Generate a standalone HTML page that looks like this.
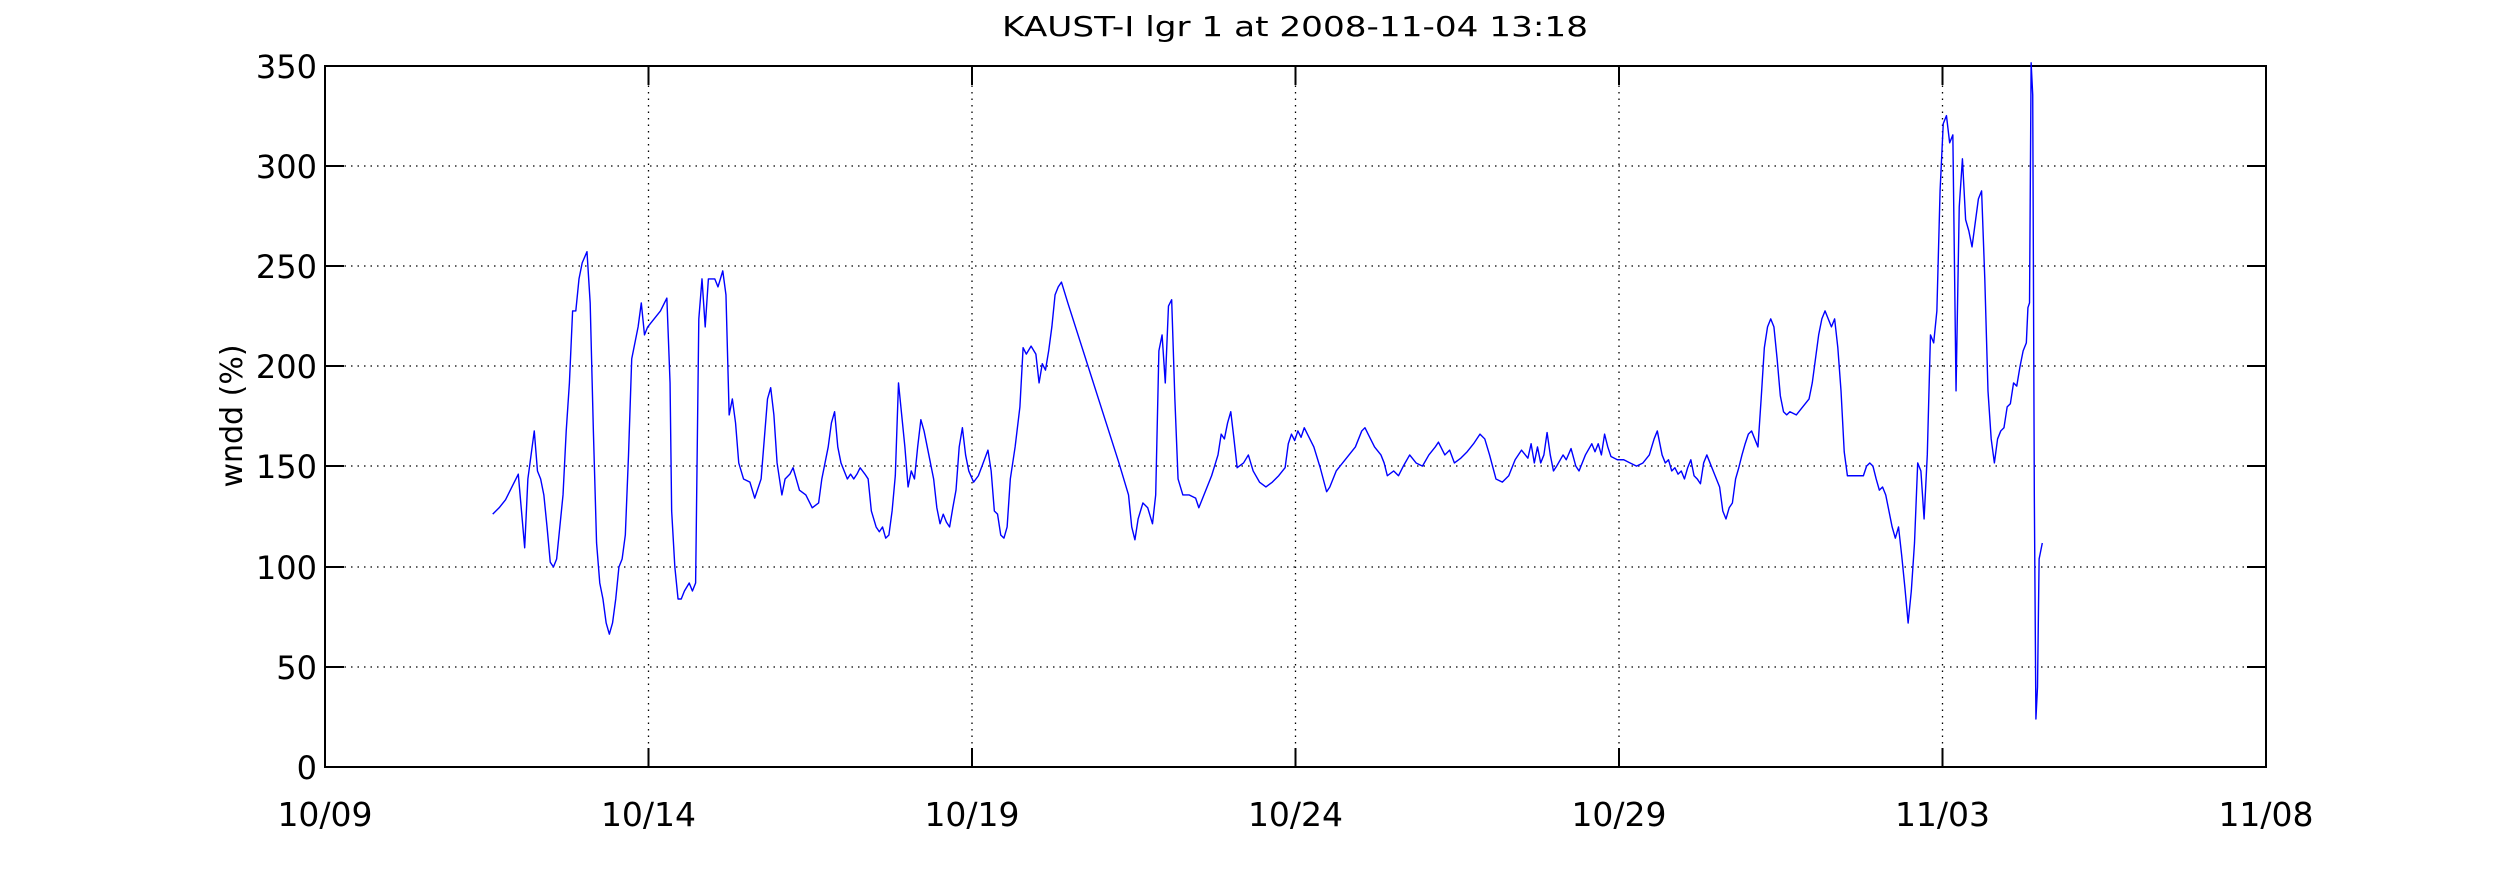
<!DOCTYPE html>
<html><head><meta charset="utf-8"><style>
html,body{margin:0;padding:0;background:#fff;}
svg{display:block;}
text{font-family:"DejaVu Sans","Liberation Sans",sans-serif;fill:#000;}
</style></head><body>
<svg width="2503" height="875" viewBox="0 0 2503 875" xmlns="http://www.w3.org/2000/svg">
<rect width="2503" height="875" fill="#fff"/>
<g stroke="#000" stroke-width="1.3" stroke-dasharray="1.5,5" fill="none">
<line x1="325" y1="166" x2="2266" y2="166"/>
<line x1="325" y1="266" x2="2266" y2="266"/>
<line x1="325" y1="366" x2="2266" y2="366"/>
<line x1="325" y1="466" x2="2266" y2="466"/>
<line x1="325" y1="567" x2="2266" y2="567"/>
<line x1="325" y1="667" x2="2266" y2="667"/>
<line x1="648.5" y1="66" x2="648.5" y2="767"/>
<line x1="972" y1="66" x2="972" y2="767"/>
<line x1="1295.5" y1="66" x2="1295.5" y2="767"/>
<line x1="1619" y1="66" x2="1619" y2="767"/>
<line x1="1942.5" y1="66" x2="1942.5" y2="767"/>
</g>
<g stroke="#000" stroke-width="2" fill="none">
<rect x="325" y="66" width="1941" height="701"/>
<path d="M325 166h19M325 266h19M325 366h19M325 466h19M325 567h19M325 667h19
M2266 166h-19M2266 266h-19M2266 366h-19M2266 466h-19M2266 567h-19M2266 667h-19
M648.5 767v-19M972 767v-19M1295.5 767v-19M1619 767v-19M1942.5 767v-19
M648.5 66v19M972 66v19M1295.5 66v19M1619 66v19M1942.5 66v19"/>
</g>
<g font-size="32" text-anchor="end">
<text x="317" y="78">350</text>
<text x="317" y="178">300</text>
<text x="317" y="278">250</text>
<text x="317" y="378">200</text>
<text x="317" y="478">150</text>
<text x="317" y="579">100</text>
<text x="317" y="679">50</text>
<text x="317" y="779">0</text>
</g>
<g font-size="33" text-anchor="middle">
<text x="325" y="826">10/09</text>
<text x="648.5" y="826">10/14</text>
<text x="972" y="826">10/19</text>
<text x="1295.5" y="826">10/24</text>
<text x="1619" y="826">10/29</text>
<text x="1942.5" y="826">11/03</text>
<text x="2266" y="826">11/08</text>
</g>
<text x="1295" y="36" font-size="28" text-anchor="middle" textLength="586" lengthAdjust="spacingAndGlyphs">KAUST-I lgr 1 at 2008-11-04 13:18</text>
<text x="0" y="0" font-size="30" text-anchor="middle" transform="translate(242,416) rotate(-90)">wndd (%)</text>
<g transform="matrix(1.5975 0 0 1.6005 0.7 -1.2)">
<polyline fill="none" stroke="#0000ff" stroke-width="1.4" vector-effect="non-scaling-stroke" stroke-linejoin="round" points="308,322 312,318 316,313 320,305 324,297 326,320 328,343 330,300 332,285 334,270 336,295 338,300 340,310 342,330 344,352 346,355 348,350 350,330 352,310 354,270 356,240 358,195 360,195 362,175 364,165 367,158 369,190 371,270 373,340 375,365 377,375 379,390 381,397 383,390 385,375 387,355 389,350 391,335 393,285 395,225 397,215 399,205 401,190 403,210 405,205 409,200 413,195 417,187 419,240 420,320 422,355 424,375 426,375 428,370 431,365 433,370 435,365 437,200 439,175 441,205 443,175 447,175 449,180 452,170 454,185 456,260 458,250 460,265 462,290 465,300 469,302 472,312 476,300 478,275 480,250 482,243 484,260 486,290 489,310 491,300 494,297 496,293 498,300 500,307 504,310 508,318 512,315 514,300 518,280 520,265 522,258 524,280 526,290 528,295 530,300 532,297 534,300 536,297 538,293 541,297 543,300 545,320 548,330 550,333 552,330 554,337 556,335 558,320 560,298 562,240 564,260 566,280 568,305 570,295 572,300 574,280 576,263 578,270 581,285 584,300 586,318 588,328 590,322 592,327 594,330 596,318 598,307 600,280 602,268 604,285 606,295 609,302 612,298 615,290 618,282 620,295 622,320 624,322 626,335 628,337 630,330 632,300 635,280 638,255 640,218 642,222 645,217 648,222 650,240 652,228 654,232 656,220 658,205 660,185 662,180 664,177 668,190 676,215 684,240 692,265 700,290 706,310 708,330 710,338 712,325 715,315 718,318 721,328 723,310 725,220 727,210 729,240 731,192 733,188 735,250 737,300 740,310 744,310 748,312 750,318 754,308 758,298 762,285 764,272 766,275 768,265 770,258 772,275 774,293 778,290 781,285 784,295 788,302 792,305 796,302 800,298 804,293 806,278 808,272 810,276 812,270 814,274 816,268 818,272 822,280 826,293 830,308 832,305 836,295 840,290 844,285 848,280 852,270 854,268 856,272 860,280 864,285 866,290 868,298 872,295 875,298 878,292 882,285 886,290 890,292 894,285 898,280 900,277 904,285 907,282 910,290 914,287 918,283 922,278 926,272 929,275 932,285 936,300 940,302 944,298 948,288 952,282 956,287 958,278 960,290 962,280 964,290 966,285 968,271 970,285 972,295 974,292 978,285 980,288 983,281 986,292 988,295 992,285 996,278 998,283 1000,278 1002,285 1004,272 1006,280 1008,286 1012,288 1016,288 1020,290 1024,292 1028,290 1032,285 1035,275 1037,270 1040,285 1042,290 1044,288 1046,295 1048,293 1050,297 1052,295 1054,300 1056,293 1058,288 1060,298 1062,300 1064,303 1066,290 1068,285 1070,290 1072,295 1074,300 1076,305 1078,320 1080,325 1082,318 1084,315 1086,300 1088,293 1090,285 1092,278 1094,272 1096,270 1098,275 1100,280 1102,250 1104,218 1106,205 1108,200 1110,205 1112,225 1114,248 1116,258 1118,260 1120,258 1124,260 1128,255 1132,250 1134,240 1136,225 1138,210 1140,200 1142,195 1144,200 1146,205 1148,200 1150,218 1152,245 1154,283 1156,298 1160,298 1166,298 1168,292 1170,290 1172,292 1174,300 1176,307 1178,305 1180,310 1182,320 1184,330 1186,337 1188,330 1190,348 1192,368 1194,390 1196,370 1198,340 1200,290 1202,295 1204,325 1206,285 1208,210 1210,215 1212,195 1214,120 1216,78 1218,73 1220,90 1222,85 1224,245 1226,130 1228,100 1230,138 1232,145 1234,155 1236,140 1238,125 1240,120 1242,175 1244,245 1246,275 1248,290 1250,275 1252,270 1254,268 1256,255 1258,253 1260,240 1262,242 1264,230 1266,220 1268,215 1269,193 1270,190 1271,40 1272,60 1273,310 1274,450 1275,430 1276,350 1277,345 1278,340"/>
</g>
</svg>
</body></html>
